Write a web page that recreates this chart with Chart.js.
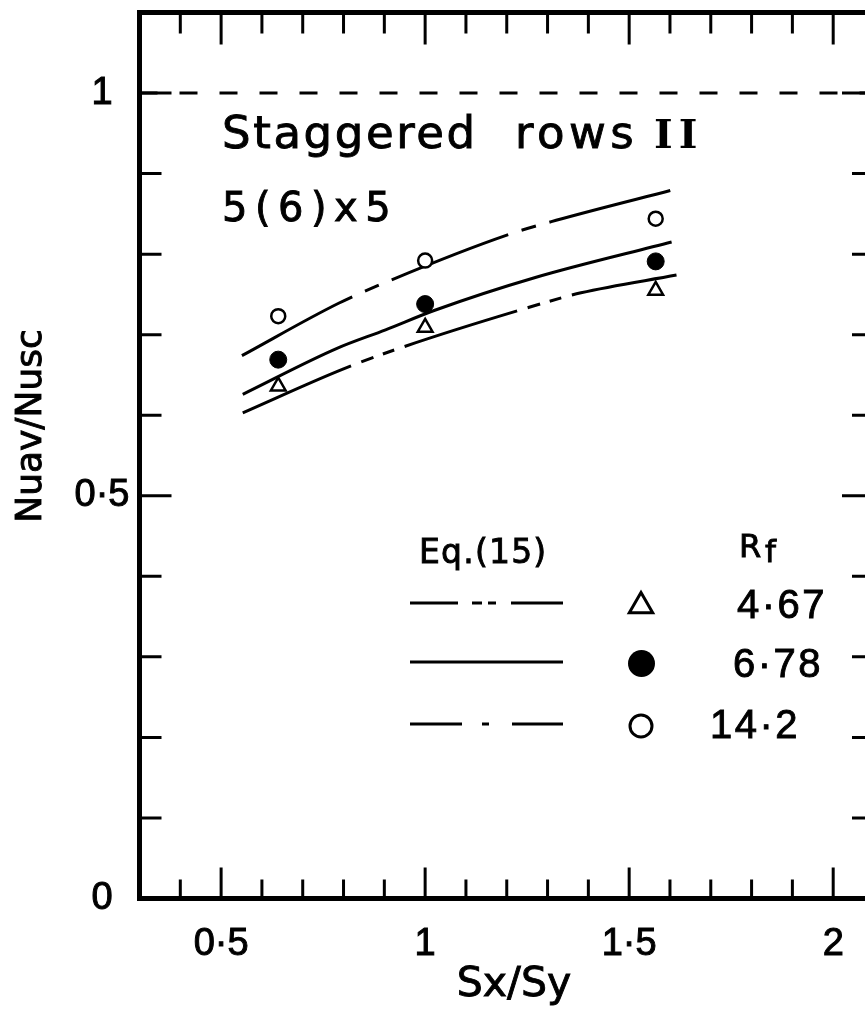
<!DOCTYPE html>
<html>
<head>
<meta charset="utf-8">
<script src="https://cdn.jsdelivr.net/npm/chart.js@4.4.0/dist/chart.umd.min.js"></script>
<style>
  html, body { margin: 0; padding: 0; background: #fff; overflow: hidden; }
  #wrap { width: 885px; height: 1017px; }
</style>
</head>
<body>
<div id="wrap"><canvas id="chart" width="885" height="1017"></canvas></div>
<script>
// measured points (Sx/Sy -> Nuav/Nusc) for each Rf
const sxsy = [0.64, 1.0, 1.565];
const nu467 = [0.636, 0.709, 0.755];
const nu678 = [0.669, 0.738, 0.791];
const nu142 = [0.723, 0.792, 0.844];

// Eq.(15) curves
const fit467X = [0.553, 0.797, 0.936, 1.255, 1.382, 1.616];
const fit467Y = [0.603, 0.657, 0.683, 0.734, 0.752, 0.774];
const fit678X = [0.553, 0.784, 0.903, 1.022, 1.270, 1.604];
const fit678Y = [0.626, 0.683, 0.706, 0.730, 0.771, 0.815];
const fit142X = [0.551, 0.788, 0.903, 1.202, 1.321, 1.616];
const fit142Y = [0.674, 0.739, 0.765, 0.824, 0.842, 0.881];

// reference line Nuav/Nusc = 1
const refX = [0.3, 2.1];
const refY = [1, 1];

const xTickVals = [0.5, 1, 1.5, 2];
const xTickText = ['0·5', '1', '1·5', '2'];
const yTickVals = [0, 0.5, 1];
const yTickText = ['0', '0·5', '1'];
const rfLabels = ['4·67', '6·78', '14·2'];

const pts = (xs, ys) => xs.map((v, i) => ({ x: v, y: ys[i] }));
const pick = (vals, texts, v) => {
    const i = vals.findIndex(t => Math.abs(t - v) < 1e-6);
    return i < 0 ? '' : texts[i];
};
const isHalf = v => Math.abs(v * 2 - Math.round(v * 2)) < 1e-6;
const noPad = s => { s.paddingLeft = s.paddingRight = s.paddingTop = s.paddingBottom = 0; };

// frame + inward ticks on all four sides
const frame = {
    id: 'frame',
    afterDraw(chart) {
        const { ctx, chartArea: a, scales: { x, y } } = chart;
        ctx.save();
        ctx.strokeStyle = '#000';
        ctx.lineWidth = 3;
        ctx.beginPath();
        x.ticks.forEach(t => {
            const px = x.getPixelForValue(t.value);
            if (px < a.left + 2 || px > a.right - 2) return;
            const big = isHalf(t.value);
            ctx.moveTo(px, a.bottom); ctx.lineTo(px, a.bottom - (big ? 31 : 19));
            ctx.moveTo(px, a.top); ctx.lineTo(px, a.top + (big ? 32 : 21));
        });
        y.ticks.forEach(t => {
            const py = y.getPixelForValue(t.value);
            if (py < a.top + 2 || py > a.bottom - 2) return;
            const len = isHalf(t.value) ? 32 : 22;
            ctx.moveTo(a.left, py); ctx.lineTo(a.left + len, py);
            ctx.moveTo(a.right, py); ctx.lineTo(a.right - len, py);
        });
        ctx.stroke();
        ctx.lineWidth = 5;
        ctx.strokeRect(a.left, a.top, a.right - a.left, a.bottom - a.top);
        ctx.restore();
    }
};

// text with a thin outline so it is as heavy as the scanned lettering
function put(ctx, text, x, y, font, spacing, weight = 0.9) {
    ctx.font = font;
    ctx.letterSpacing = spacing + 'px';
    ctx.fillText(text, x, y);
    if (weight > 0) {
        ctx.lineWidth = weight;
        ctx.strokeText(text, x, y);
    }
}

function marker(ctx, style, x, y, r) {
    ctx.beginPath();
    if (style === 'triangle') {
        let rad = 0;
        ctx.moveTo(x + Math.sin(rad) * r, y - Math.cos(rad) * r);
        rad += Math.PI * 2 / 3;
        ctx.lineTo(x + Math.sin(rad) * r, y - Math.cos(rad) * r);
        rad += Math.PI * 2 / 3;
        ctx.lineTo(x + Math.sin(rad) * r, y - Math.cos(rad) * r);
        ctx.closePath();
    } else {
        ctx.arc(x, y, r, 0, Math.PI * 2);
    }
}

// titles, labels and the legend box
const notes = {
    id: 'notes',
    afterDraw(chart) {
        const ctx = chart.ctx;
        ctx.save();
        ctx.fillStyle = '#000';
        ctx.strokeStyle = '#000';
        ctx.textAlign = 'left';
        ctx.textBaseline = 'alphabetic';

        put(ctx, 'Staggered', 222, 148, '45px "DejaVu Sans"', 2.6);
        put(ctx, 'rows', 515, 148, '45px "DejaVu Sans"', 4.5);
        put(ctx, 'II', 654, 148, 'bold 40px "DejaVu Serif"', 6, 0);
        put(ctx, '5(6)x5', 222, 221, '40px "DejaVu Sans"', 7.5);

        put(ctx, 'Eq.(15)', 419, 563, '33px "DejaVu Sans"', 1.2);
        put(ctx, 'R', 739, 557, '32px "DejaVu Sans"', 0);
        put(ctx, 'f', 765, 562, '31px "DejaVu Sans"', 0);

        const rows = [605, 664, 726];
        const dashes = [[48, 14, 10, 6, 8, 15, 60], [], [52, 20, 7, 23, 60]];
        const valX = [737, 733, 710];
        const valY = [618, 677, 738];
        rows.forEach((ry, i) => {
            ctx.lineWidth = 3;
            ctx.setLineDash(dashes[i]);
            ctx.beginPath();
            ctx.moveTo(410, ry - 2);
            ctx.lineTo(563, ry - 2);
            ctx.stroke();
            ctx.setLineDash([]);
            put(ctx, rfLabels[i], valX[i], valY[i], '40px "Liberation Sans"', 2.5);
        });
        ctx.letterSpacing = '0px';
        ctx.lineWidth = 3;
        ctx.fillStyle = '#fff';
        marker(ctx, 'triangle', 641, 606, 13.5);
        ctx.fill(); ctx.stroke();
        ctx.fillStyle = '#000';
        marker(ctx, 'circle', 641.5, 663.5, 13.5);
        ctx.fill();
        ctx.fillStyle = '#fff';
        marker(ctx, 'circle', 641, 726, 11);
        ctx.fill(); ctx.stroke();

        // axis titles
        ctx.fillStyle = '#000';
        ctx.textAlign = 'center';
        put(ctx, 'Sx/Sy', 514, 996, '41px "DejaVu Sans"', 0);
        ctx.translate(41, 426);
        ctx.rotate(-Math.PI / 2);
        put(ctx, 'Nuav/Nusc', 0, 0, '36px "DejaVu Sans"', 0);
        ctx.restore();
    }
};

const lineBase = {
    showLine: true,
    borderColor: '#000',
    borderWidth: 3,
    pointRadius: 0,
    fill: false,
    cubicInterpolationMode: 'monotone',
    borderCapStyle: 'butt'
};

const tickFont = { family: 'Liberation Sans', size: 38 };

new Chart(document.getElementById('chart'), {
    type: 'scatter',
    data: {
        datasets: [
            { label: 'Rf 4.67', data: pts(sxsy, nu467), pointStyle: 'triangle', pointRadius: 8.5,
              pointBorderWidth: 2.5, pointBackgroundColor: '#fff', pointBorderColor: '#000' },
            { label: 'Rf 6.78', data: pts(sxsy, nu678), pointStyle: 'circle', pointRadius: 8.5,
              pointBorderWidth: 1, pointBackgroundColor: '#000', pointBorderColor: '#000' },
            { label: 'Rf 14.2', data: pts(sxsy, nu142), pointStyle: 'circle', pointRadius: 7,
              pointBorderWidth: 2.5, pointBackgroundColor: '#fff', pointBorderColor: '#000' },
            { ...lineBase, label: 'Eq.(15) 4.67', data: pts(fit467X, fit467Y), borderDash: [118, 11, 13, 10, 12, 11] },
            { ...lineBase, label: 'Eq.(15) 6.78', data: pts(fit678X, fit678Y) },
            { ...lineBase, label: 'Eq.(15) 14.2', data: pts(fit142X, fit142Y), borderDash: [125, 14, 15, 14] },
            { ...lineBase, label: 'ref', data: pts(refX, refY), cubicInterpolationMode: 'default',
              borderWidth: 3, borderDash: [18, 22] }
        ]
    },
    options: {
        responsive: false,
        animation: false,
        events: [],
        devicePixelRatio: 1,
        layout: { padding: { top: 12.5, right: 11, left: 0, bottom: 0 } },
        plugins: { legend: { display: false }, tooltip: { enabled: false } },
        scales: {
            x: {
                type: 'linear', min: 0.3, max: 2.1,
                afterFit(s) { s.height = 118.5; noPad(s); },
                grid: { display: false, drawTicks: false },
                border: { display: false },
                ticks: {
                    stepSize: 0.1, autoSkip: false, maxRotation: 0, padding: 23, color: '#000',
                    textStrokeColor: '#000', textStrokeWidth: 1,
                    font: tickFont,
                    callback: v => pick(xTickVals, xTickText, v)
                }
            },
            y: {
                type: 'linear', min: 0, max: 1.1,
                afterFit(s) { s.width = 139.5; noPad(s); },
                grid: { display: false, drawTicks: false },
                border: { display: false },
                ticks: {
                    stepSize: 0.1, autoSkip: false, padding: 10, crossAlign: 'center', color: '#000',
                    textStrokeColor: '#000', textStrokeWidth: 1,
                    font: tickFont,
                    callback: v => pick(yTickVals, yTickText, v)
                }
            }
        }
    },
    plugins: [frame, notes]
});
</script>
</body>
</html>
